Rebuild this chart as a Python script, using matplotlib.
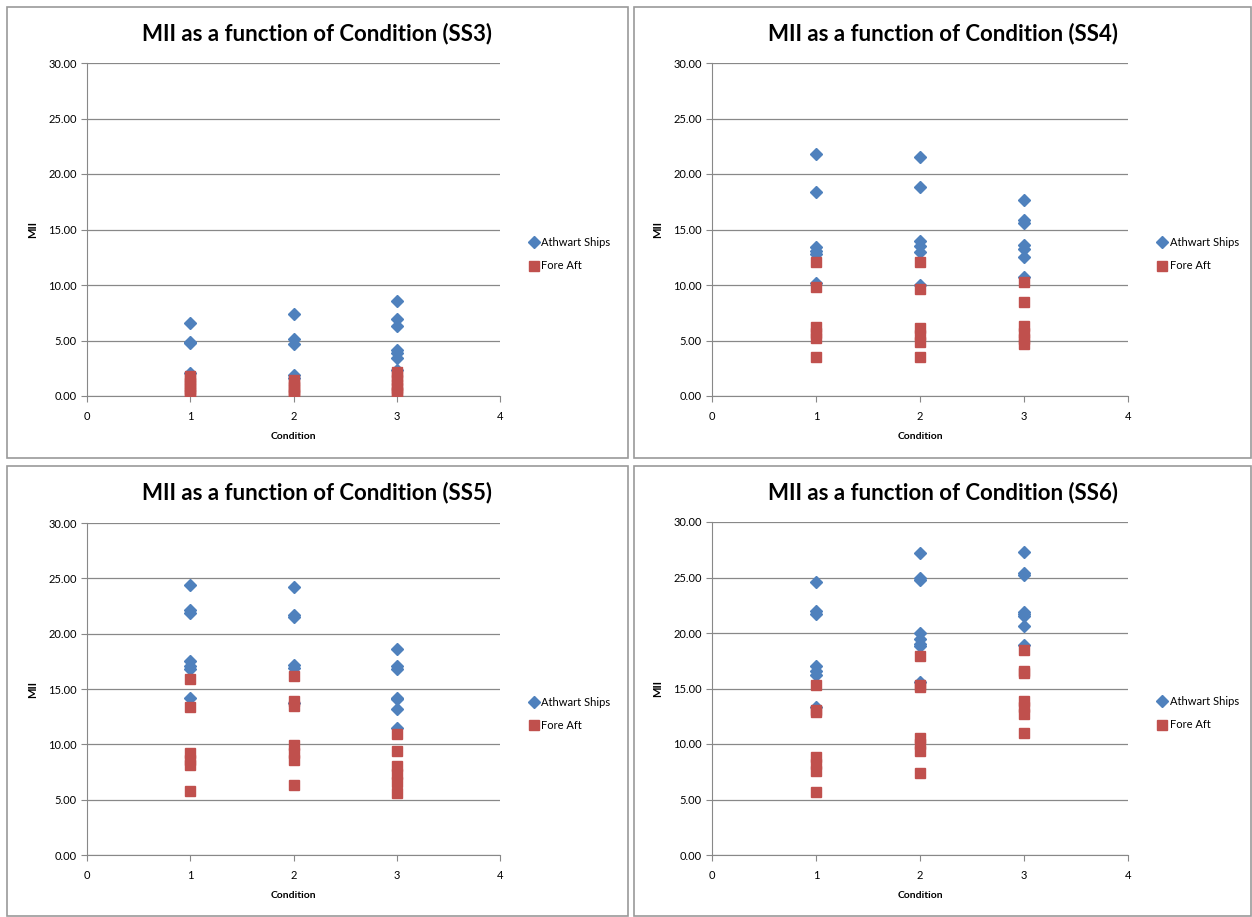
import matplotlib
matplotlib.use('Agg')
import matplotlib.pyplot as plt
from matplotlib.patches import Rectangle

plt.rcParams['font.family'] = ['Lato', 'DejaVu Sans']

# MII readings per condition, one list per sea state and direction
ss3_athwart_c1 = [6.6, 4.9, 4.8, 2.1]
ss3_athwart_c2 = [7.4, 5.1, 4.7, 1.9, 1.6]
ss3_athwart_c3 = [8.6, 6.9, 6.3, 4.1, 3.9, 3.4, 2.3]
ss3_fore_c1 = [1.8, 1.5, 1.2, 0.9, 0.6, 0.3, 0.1]
ss3_fore_c2 = [1.4, 1.1, 0.8, 0.5, 0.2, 0.1]
ss3_fore_c3 = [2.2, 1.8, 1.4, 1.0, 0.7, 0.4, 0.3]

ss4_athwart_c1 = [21.8, 18.4, 13.4, 13.1, 12.8, 10.2]
ss4_athwart_c2 = [21.5, 18.8, 14.0, 13.5, 13.0, 10.0]
ss4_athwart_c3 = [17.7, 15.9, 15.6, 13.6, 13.2, 12.5, 10.7]
ss4_fore_c1 = [12.1, 9.8, 6.2, 5.7, 5.2, 3.5]
ss4_fore_c2 = [12.1, 9.6, 6.1, 5.5, 4.9, 3.5]
ss4_fore_c3 = [10.3, 8.5, 6.3, 5.7, 5.1, 4.7]

ss5_athwart_c1 = [24.4, 22.1, 21.9, 17.5, 17.1, 16.8, 14.2]
ss5_athwart_c2 = [24.2, 21.7, 21.5, 17.2, 16.9, 13.7]
ss5_athwart_c3 = [18.6, 17.1, 16.8, 14.2, 14.1, 13.2, 11.5]
ss5_fore_c1 = [15.9, 13.4, 9.2, 8.6, 8.1, 5.8]
ss5_fore_c2 = [16.2, 13.9, 13.5, 9.9, 9.2, 8.6, 6.3]
ss5_fore_c3 = [10.9, 9.4, 8.0, 7.3, 6.6, 5.6]

ss6_athwart_c1 = [24.6, 22.0, 21.7, 17.0, 16.6, 16.2, 13.3]
ss6_athwart_c2 = [27.2, 25.0, 24.8, 20.0, 19.5, 19.0, 18.8, 15.6]
ss6_athwart_c3 = [27.3, 25.4, 25.2, 21.9, 21.7, 21.5, 20.6, 18.9]
ss6_fore_c1 = [15.3, 13.1, 12.9, 8.8, 8.2, 7.6, 5.7]
ss6_fore_c2 = [17.9, 15.3, 15.1, 10.5, 10.0, 9.4, 7.4]
ss6_fore_c3 = [18.5, 16.6, 16.4, 13.9, 13.3, 12.7, 11.0]

panels = [
    ('SS3', [ss3_athwart_c1, ss3_athwart_c2, ss3_athwart_c3], [ss3_fore_c1, ss3_fore_c2, ss3_fore_c3]),
    ('SS4', [ss4_athwart_c1, ss4_athwart_c2, ss4_athwart_c3], [ss4_fore_c1, ss4_fore_c2, ss4_fore_c3]),
    ('SS5', [ss5_athwart_c1, ss5_athwart_c2, ss5_athwart_c3], [ss5_fore_c1, ss5_fore_c2, ss5_fore_c3]),
    ('SS6', [ss6_athwart_c1, ss6_athwart_c2, ss6_athwart_c3], [ss6_fore_c1, ss6_fore_c2, ss6_fore_c3]),
]

W, H = 1252, 917
fig = plt.figure(figsize=(W / 100, H / 100), dpi=100)

# (frame left, top, right, bottom), (plot left, top, right, bottom) in pixels
boxes = [
    ((7, 7, 628, 458), (87, 63, 500, 396)),
    ((634, 7, 1251, 458), (712, 63, 1128, 396)),
    ((7, 466, 628, 916), (87, 523, 500, 855)),
    ((634, 466, 1251, 916), (712, 522, 1128, 855)),
]

blue = '#4F81BD'
red = '#C0504D'
grey = '#888888'

for (name, athwart, fore), (frame, area) in zip(panels, boxes):
    fl, ft, fr, fb = frame
    fig.patches.append(Rectangle((fl / W, 1 - fb / H), (fr - fl) / W, (fb - ft) / H,
                                 transform=fig.transFigure, fill=False,
                                 edgecolor='#9a9a9a', linewidth=1.2))
    # title is centred on the chart frame, not on the plot area
    fig.text((fl + fr) / 2 / W, 1 - (ft + 27) / H, f'MII as a function of Condition ({name})',
             ha='center', va='center', fontsize=16, fontweight='bold')

    l, t, r, b = area
    ax = fig.add_axes([l / W, 1 - b / H, (r - l) / W, (b - t) / H])

    xa, ya, xf, yf = [], [], [], []
    for c, vals in enumerate(athwart, start=1):
        xa += [c] * len(vals)
        ya += vals
    for c, vals in enumerate(fore, start=1):
        xf += [c] * len(vals)
        yf += vals
    ax.plot(xa, ya, 'D', color=blue, markersize=6, label='Athwart Ships', zorder=3)
    ax.plot(xf, yf, 's', color=red, markersize=7.5, label='Fore Aft', zorder=3)

    ax.set_xlim(0, 4)
    ax.set_ylim(0, 30)
    ax.set_xticks([0, 1, 2, 3, 4])
    ax.set_yticks(range(0, 31, 5))
    ax.set_yticklabels([f'{v:.2f}' for v in range(0, 31, 5)])
    ax.yaxis.grid(True, color=grey, linewidth=0.9)
    ax.set_axisbelow(True)
    for s in ('top', 'right'):
        ax.spines[s].set_visible(False)
    for s in ('left', 'bottom'):
        ax.spines[s].set_color(grey)
    ax.tick_params(labelsize=8, colors='black', length=4, width=0.8)
    ax.tick_params(axis='both', color=grey)
    ax.tick_params(axis='x', pad=7)
    ax.set_xlabel('Condition', fontsize=7.5, fontweight='bold', labelpad=7)
    ax.set_ylabel('MII', fontsize=8, fontweight='bold', labelpad=7)
    ax.legend(loc='upper left', bbox_to_anchor=(1.06, 0.49), frameon=False,
              fontsize=8, handlelength=0.8, handletextpad=0.3, labelspacing=1.1,
              borderaxespad=0)

fig.savefig('out.png', dpi=100)
